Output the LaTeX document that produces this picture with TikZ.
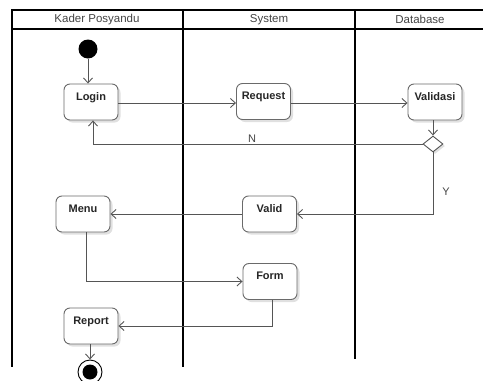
\documentclass[tikz,border=0pt]{standalone}
\usepackage{fontspec}
\setmainfont{Liberation Sans}
\usetikzlibrary{arrows.meta,shadows,shapes.geometric}
\definecolor{lineg}{HTML}{555555}
\definecolor{boxg}{HTML}{6A6A6A}
\definecolor{headg}{HTML}{444444}
\tikzset{
  lane/.style={draw=black, line width=1.3pt},
  act/.style={draw=boxg, line width=0.9pt, rounded corners=6pt, fill=white,
    minimum width=54pt, inner sep=0pt, text height=16pt, text depth=20pt,
    font=\fontsize{11}{13}\selectfont\bfseries, text=black!85,
    drop shadow={shadow xshift=2.5pt, shadow yshift=-2.5pt, fill=black!12, opacity=1}},
  flow/.style={draw=lineg, line width=0.9pt, -{Straight Barb[length=5pt,width=9pt]}},
  head/.style={font=\fontsize{11.5}{13}\selectfont, text=headg},
  guard/.style={font=\fontsize{11}{13}\selectfont, text=headg}
}
\begin{document}
\begin{tikzpicture}[x=1pt,y=-1pt]
\useasboundingbox (0,0) rectangle (483,381);
% swimlanes
\draw[lane] (483,10) -- (12,10) -- (12,367);
\draw[lane] (12,29) -- (483,29);
\draw[lane] (183,10) -- (183,367);
\draw[lane] (355,10) -- (355,359);
\node[head] (h1) at (97,19.5) {Kader Posyandu};
\node[head] (h2) at (269,19.5) {System};
\node[head] (h3) at (420,19.5) {Database};
% nodes
\node[circle, fill=black, minimum size=19pt, inner sep=0pt] (start) at (88,49) {};
\node[act] (login) at (91,102) {Login};
\node[act] (request) at (263.5,101.5) {Request};
\node[act] (validasi) at (435,102) {Validasi};
\node[diamond, draw=lineg, line width=0.9pt, fill=white, minimum width=20pt, minimum height=16pt, inner sep=0pt,
  drop shadow={shadow xshift=2pt, shadow yshift=-2pt, fill=black!12, opacity=1}] (dec) at (433,144) {};
\node[act] (valid) at (269.5,214) {Valid};
\node[act] (menu) at (83,214) {Menu};
\node[act] (form) at (270,281.5) {Form};
\node[act] (report) at (91,326) {Report};
\node[circle, draw=black, line width=0.9pt, fill=white, minimum size=24pt, inner sep=0pt] (endo) at (90,372) {};
\node[circle, fill=black, minimum size=15pt, inner sep=0pt] (endi) at (90,372) {};
% flows
\draw[flow] (start) -- (start |- login.north);
\draw[flow] (login.east |- 0,103) -- (request.west |- 0,103);
\draw[flow] (request.east |- 0,103) -- (validasi.west |- 0,103);
\draw[flow] (validasi.south -| dec) -- (dec.north);
\draw[flow] (dec.west) -| ([xshift=2pt]login.south);
\node[guard] (n) at (252,139) {N};
\draw[flow] (dec.south) |- (valid.east);
\node[guard] (y) at (446,192) {Y};
\draw[flow] (valid.west) -- (menu.east);
\draw[flow] ([xshift=3pt]menu.south) |- (form.west);
\draw[flow] ([xshift=2pt]form.south) |- (report.east);
\draw[flow] ([xshift=-1pt]report.south) -- (endo.north -| 90,0);
\end{tikzpicture}
\end{document}
